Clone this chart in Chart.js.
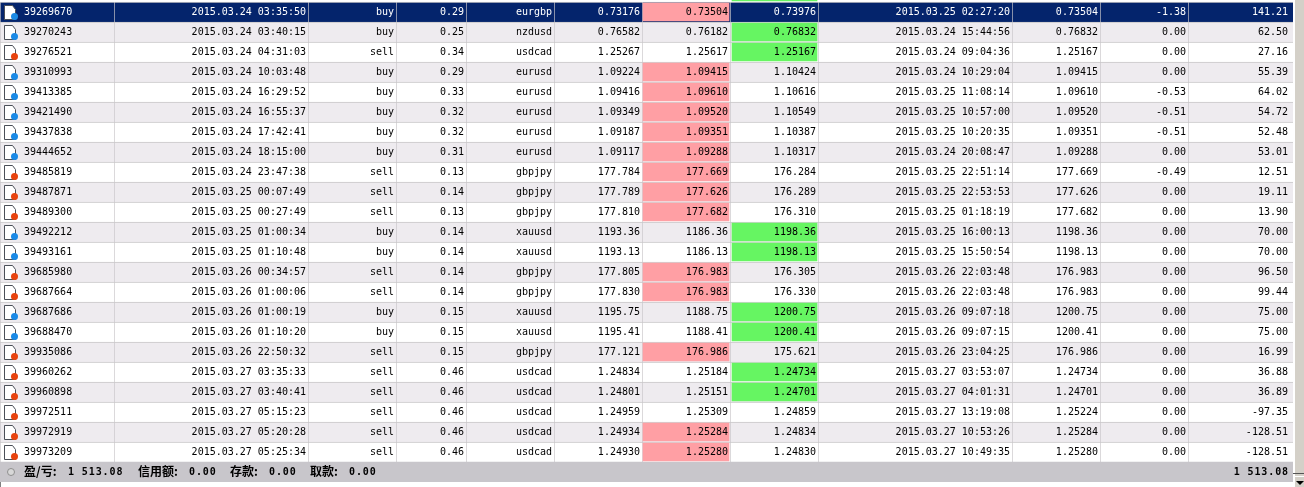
<!DOCTYPE html>
<html>
<head>
<meta charset="utf-8">
<title>trades</title>
<script src="https://cdn.jsdelivr.net/npm/chart.js@4/dist/chart.umd.min.js"></script>
<style>
  html, body { margin: 0; padding: 0; background: #fff; overflow: hidden; }
  #wrap { position: relative; width: 1304px; height: 487px; overflow: hidden; }
  #table { position: absolute; left: 0; top: -18px; }
  #edge { position: absolute; left: 0; top: 482px; width: 1px; height: 5px; background: #808080; }
  #bar { position: absolute; left: 1295px; top: 0; width: 9px; height: 487px; background: #d4d0c8; }
  #thumbEnd { position: absolute; left: 1293px; top: 473px; width: 11px; height: 1px; background: #555; }
  #btn { position: absolute; left: 1295px; top: 476px; width: 9px; height: 11px; background: #d4d0c8; border-top: 1px solid #fff; box-sizing: border-box; }
  #arrow { position: absolute; left: 1296px; top: 481px; width: 0; height: 0; border-left: 4px solid transparent; border-right: 4px solid transparent; border-top: 4px solid #000; }
</style>
</head>
<body>
<div id="wrap">
  <canvas id="table" width="1304" height="505"></canvas>
  <div id="edge"></div>
  <div id="bar"></div>
  <div id="thumbEnd"></div>
  <div id="btn"></div>
  <div id="arrow"></div>
</div>
<script>
const tickets = ["39269670","39270243","39276521","39310993","39413385","39421490","39437838","39444652","39485819","39487871","39489300","39492212","39493161","39685980","39687664","39687686","39688470","39935086","39960262","39960898","39972511","39972919","39973209"];
const openTimes = ["2015.03.24 03:35:50","2015.03.24 03:40:15","2015.03.24 04:31:03","2015.03.24 10:03:48","2015.03.24 16:29:52","2015.03.24 16:55:37","2015.03.24 17:42:41","2015.03.24 18:15:00","2015.03.24 23:47:38","2015.03.25 00:07:49","2015.03.25 00:27:49","2015.03.25 01:00:34","2015.03.25 01:10:48","2015.03.26 00:34:57","2015.03.26 01:00:06","2015.03.26 01:00:19","2015.03.26 01:10:20","2015.03.26 22:50:32","2015.03.27 03:35:33","2015.03.27 03:40:41","2015.03.27 05:15:23","2015.03.27 05:20:28","2015.03.27 05:25:34"];
const types = ["buy","buy","sell","buy","buy","buy","buy","buy","sell","sell","sell","buy","buy","sell","sell","buy","buy","sell","sell","sell","sell","sell","sell"];
const lots = ["0.29","0.25","0.34","0.29","0.33","0.32","0.32","0.31","0.13","0.14","0.13","0.14","0.14","0.14","0.14","0.15","0.15","0.15","0.46","0.46","0.46","0.46","0.46"];
const symbols = ["eurgbp","nzdusd","usdcad","eurusd","eurusd","eurusd","eurusd","eurusd","gbpjpy","gbpjpy","gbpjpy","xauusd","xauusd","gbpjpy","gbpjpy","xauusd","xauusd","gbpjpy","usdcad","usdcad","usdcad","usdcad","usdcad"];
const openPrices = ["0.73176","0.76582","1.25267","1.09224","1.09416","1.09349","1.09187","1.09117","177.784","177.789","177.810","1193.36","1193.13","177.805","177.830","1195.75","1195.41","177.121","1.24834","1.24801","1.24959","1.24934","1.24930"];
const stopLoss = ["0.73504","0.76182","1.25617","1.09415","1.09610","1.09520","1.09351","1.09288","177.669","177.626","177.682","1186.36","1186.13","176.983","176.983","1188.75","1188.41","176.986","1.25184","1.25151","1.25309","1.25284","1.25280"];
const takeProfit = ["0.73976","0.76832","1.25167","1.10424","1.10616","1.10549","1.10387","1.10317","176.284","176.289","176.310","1198.36","1198.13","176.305","176.330","1200.75","1200.41","175.621","1.24734","1.24701","1.24859","1.24834","1.24830"];
const closeTimes = ["2015.03.25 02:27:20","2015.03.24 15:44:56","2015.03.24 09:04:36","2015.03.24 10:29:04","2015.03.25 11:08:14","2015.03.25 10:57:00","2015.03.25 10:20:35","2015.03.24 20:08:47","2015.03.25 22:51:14","2015.03.25 22:53:53","2015.03.25 01:18:19","2015.03.25 16:00:13","2015.03.25 15:50:54","2015.03.26 22:03:48","2015.03.26 22:03:48","2015.03.26 09:07:18","2015.03.26 09:07:15","2015.03.26 23:04:25","2015.03.27 03:53:07","2015.03.27 04:01:31","2015.03.27 13:19:08","2015.03.27 10:53:26","2015.03.27 10:49:35"];
const closePrices = ["0.73504","0.76832","1.25167","1.09415","1.09610","1.09520","1.09351","1.09288","177.669","177.626","177.682","1198.36","1198.13","176.983","176.983","1200.75","1200.41","176.986","1.24734","1.24701","1.25224","1.25284","1.25280"];
const swaps = ["-1.38","0.00","0.00","0.00","-0.53","-0.51","-0.51","0.00","-0.49","0.00","0.00","0.00","0.00","0.00","0.00","0.00","0.00","0.00","0.00","0.00","0.00","0.00","0.00"];
const profits = ["141.21","62.50","27.16","55.39","64.02","54.72","52.48","53.01","12.51","19.11","13.90","70.00","70.00","96.50","99.44","75.00","75.00","16.99","36.88","36.89","-97.35","-128.51","-128.51"];
const footerLabels = ["盈/亏:","信用额:","存款:","取款:"];
const footerValues = ["1 513.08","0.00","0.00","0.00"];
const footerTotal = "1 513.08";

// column edges on the x scale, one unit is one pixel
const colEdges = [0,114,308,396,466,554,642,730,818,1012,1100,1188,1293];
const columns = [tickets,openTimes,types,lots,symbols,openPrices,stopLoss,takeProfit,closeTimes,closePrices,swaps,profits];
const footerX = [[24,68],[138,189],[230,269],[310,349]];

// first row is the one scrolled off the top, last row is the summary
const rowLabels = ["scrolled"].concat(tickets, ["total"]);
const lastRow = rowLabels.length - 1;

const GRID = "#c9c7c9";
const NAVY = "#04246c";
const FONT = "10px 'DejaVu Sans Mono'";

function rowColor(r) {
    if (r === lastRow) return "#c8c6cb";
    if (r === 1) return NAVY;
    if (r === 0) return "#ffffff";
    return r % 2 === 0 ? "#eeebef" : "#ffffff";
}

const cellSets = columns.map((col, c) => ({
    label: "col" + c,
    data: rowLabels.map(() => [colEdges[c], colEdges[c + 1]]),
    backgroundColor: ctx => rowColor(ctx.dataIndex),
    borderColor: GRID,
    borderSkipped: false,
    borderWidth: ctx => {
        if (ctx.dataIndex === lastRow || ctx.dataIndex === 0) return 0;
        return { left: 1, top: 1, right: 0, bottom: 0 };
    },
    barPercentage: 1,
    categoryPercentage: 1,
    order: 2
}));

const stopHits = rowLabels.map((_, r) => {
    const t = r - 1;
    return closePrices[t] !== undefined && closePrices[t] === stopLoss[t] ? [643, 729] : null;
});
const takeHits = rowLabels.map((_, r) => {
    const t = r - 1;
    if (r === 0) return [732, 817]; // only the green cell of the hidden row peeks in
    return closePrices[t] !== undefined && closePrices[t] === takeProfit[t] ? [732, 817] : null;
});

function drawIcon(ctx, top, type) {
    ctx.save();
    ctx.fillStyle = "#ffffff";
    ctx.strokeStyle = "#4a4f57";
    ctx.lineWidth = 1;
    ctx.beginPath();
    ctx.moveTo(4.5, top + 3.5);
    ctx.lineTo(12.5, top + 3.5);
    ctx.lineTo(15.5, top + 7.5);
    ctx.lineTo(15.5, top + 17.5);
    ctx.lineTo(4.5, top + 17.5);
    ctx.closePath();
    ctx.fill();
    ctx.stroke();
    ctx.beginPath();
    ctx.arc(14.5, top + 14.5, 3.5, 0, Math.PI * 2);
    ctx.fillStyle = type === "buy" ? "#1a8ae6" : "#e8430f";
    ctx.fill();
    ctx.restore();
}

const textPlugin = {
    id: "cellText",
    afterDatasetsDraw(chart) {
        const ctx = chart.ctx;
        const x = chart.scales.x;
        const y = chart.scales.y;
        ctx.save();
        ctx.font = FONT;
        ctx.textBaseline = "alphabetic";
        tickets.forEach((_, t) => {
            const mid = y.getPixelForValue(t + 1);
            drawIcon(ctx, mid - 10, types[t]);
            columns.forEach((col, c) => {
                ctx.fillStyle = t === 0 && c !== 6 ? "#ffffff" : "#000000";
                if (c === 0) {
                    ctx.textAlign = "left";
                    ctx.fillText(col[t], x.getPixelForValue(24), mid + 3);
                } else {
                    ctx.textAlign = "right";
                    const pad = c === columns.length - 1 ? 5 : 2;
                    ctx.fillText(col[t], x.getPixelForValue(colEdges[c + 1] - pad), mid + 3);
                }
            });
        });

        // summary row
        const mid = y.getPixelForValue(lastRow);
        ctx.beginPath();
        ctx.arc(x.getPixelForValue(11), mid, 3.5, 0, Math.PI * 2);
        ctx.fillStyle = "#d8d8d8";
        ctx.fill();
        ctx.strokeStyle = "#8f8f8f";
        ctx.stroke();
        ctx.fillStyle = "#000000";
        ctx.textAlign = "left";
        footerLabels.forEach((label, i) => {
            ctx.font = "bold 12px 'Noto Sans CJK SC'";
            ctx.letterSpacing = "0px";
            ctx.fillText(label, x.getPixelForValue(footerX[i][0]), mid + 4);
            ctx.font = "bold 10px 'DejaVu Sans Mono'";
            ctx.letterSpacing = "0.9px";
            ctx.fillText(footerValues[i], x.getPixelForValue(footerX[i][1]), mid + 3);
        });
        ctx.textAlign = "right";
        ctx.fillText(footerTotal, x.getPixelForValue(1289), mid + 3);
        ctx.restore();
    }
};

new Chart(document.getElementById("table"), {
    type: "bar",
    data: {
        labels: rowLabels,
        datasets: cellSets.concat([
            { label: "stop hit", data: stopHits, backgroundColor: "#ff9fa4", barThickness: 18, order: 1 },
            { label: "take hit", data: takeHits, backgroundColor: "#66f562", barThickness: 18, order: 1 }
        ])
    },
    plugins: [textPlugin],
    options: {
        indexAxis: "y",
        responsive: false,
        animation: false,
        devicePixelRatio: 1,
        grouped: false,
        layout: { padding: { left: 0, top: 0, right: 11, bottom: 5 } },
        plugins: { legend: { display: false }, tooltip: { enabled: false } },
        scales: {
            x: { type: "linear", min: 0, max: 1293, display: false },
            y: { type: "category", display: false }
        }
    }
});
</script>
</body>
</html>
